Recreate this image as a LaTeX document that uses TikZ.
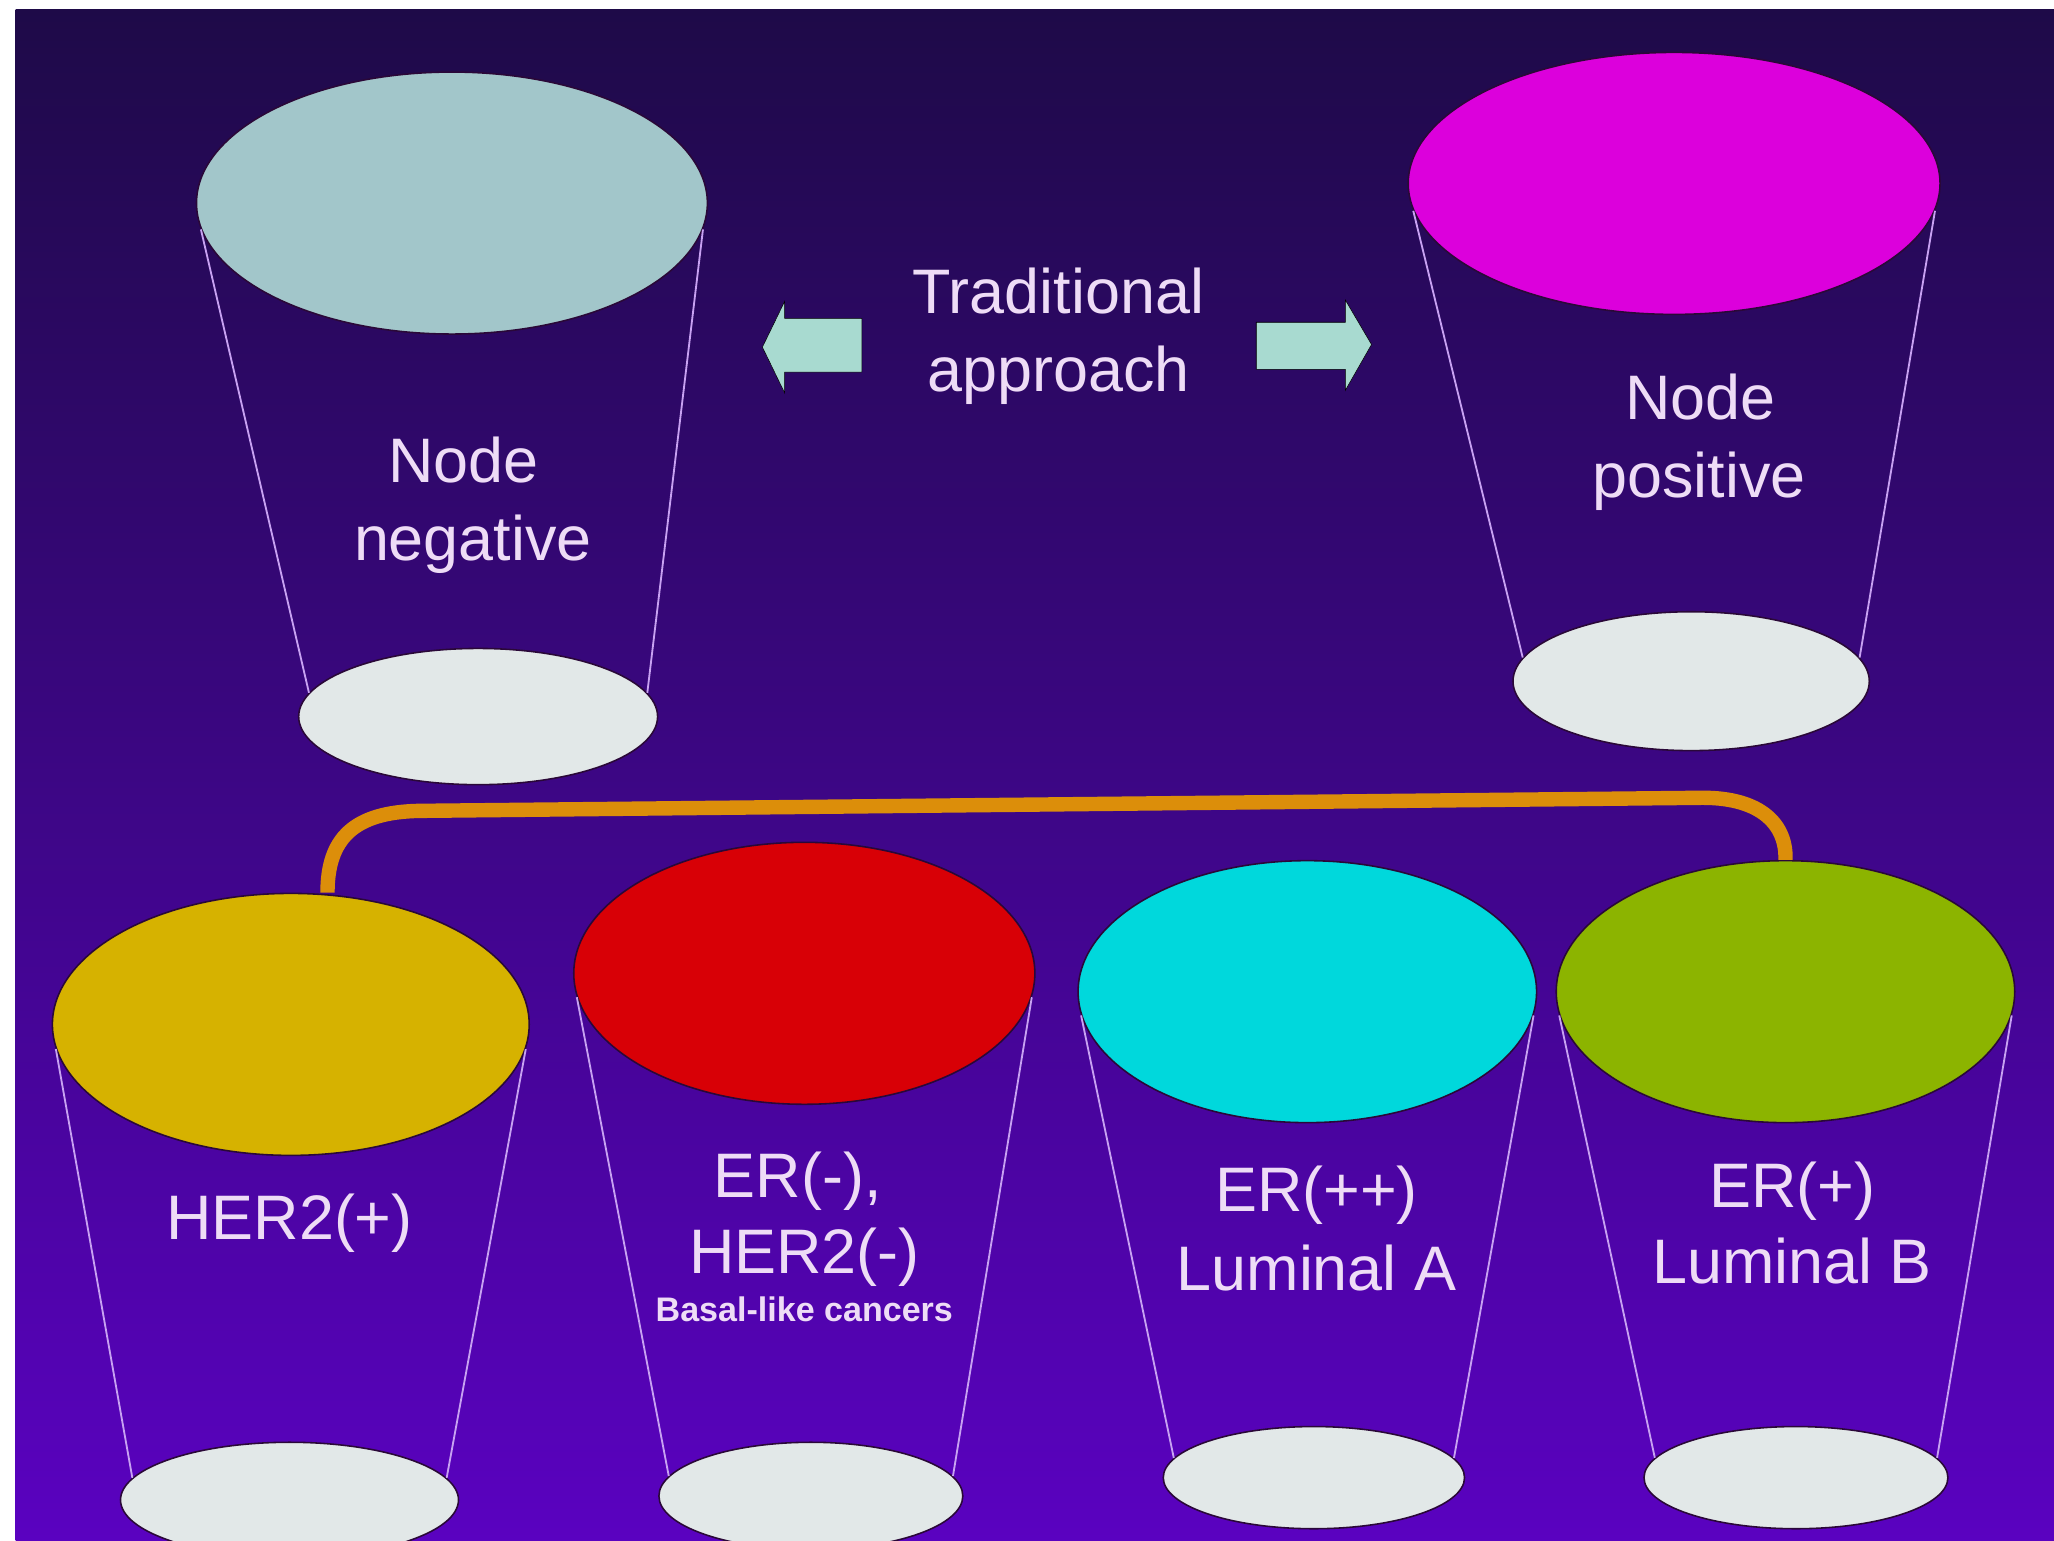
\documentclass[tikz,border=0pt]{standalone}
\usepackage{fontspec}
\setmainfont{Liberation Sans}
\usetikzlibrary{shapes.geometric}
\definecolor{bgtop}{HTML}{1E0A48}
\definecolor{bgmid}{HTML}{360A8E}
\definecolor{bgbot}{HTML}{5A02C0}
\definecolor{txtcol}{HTML}{EEDCF6}
\definecolor{sidecol}{HTML}{C8A2F2}
\definecolor{rimcol}{HTML}{2A0838}
\definecolor{basecol}{HTML}{E2E8E8}
\definecolor{nncol}{HTML}{A2C6CA}
\definecolor{npcol}{HTML}{DC00DC}
\definecolor{h2col}{HTML}{D6B200}
\definecolor{ercol}{HTML}{D80006}
\definecolor{lacol}{HTML}{00D8DC}
\definecolor{lbcol}{HTML}{8CB400}
\definecolor{arrcol}{HTML}{A8DAD0}
\definecolor{brcol}{HTML}{DC8E0A}
\tikzset{
  cuptop/.style={ellipse, inner sep=0pt, draw=rimcol, line width=1.2pt, minimum height=200pt},
  cupbase/.style={ellipse, inner sep=0pt, draw=rimcol, line width=1.2pt, fill=basecol},
  side/.style={draw=sidecol, line width=1.4pt},
  lbl/.style={text=txtcol, font=\fontsize{48}{60}\selectfont, inner sep=0pt, anchor=base},
  smalllbl/.style={text=txtcol, font=\fontsize{26}{30}\selectfont\bfseries, inner sep=0pt, anchor=base},
  blockarrow/.style={fill=arrcol},
  bracket/.style={draw=brcol, line width=11pt}
}
\begin{document}
\begin{tikzpicture}[x=1pt,y=-1pt]
\useasboundingbox (0,0) rectangle (1568,1176);
\fill[white] (0,0) rectangle (1568,1176);
\shade[top color=bgtop, middle color=bgmid, bottom color=bgbot] (12,7) rectangle (1568,1176);

% bracket (behind cups)
\node[cupbase, minimum width=258pt, minimum height=88pt] (h2B) at (221,1145) {};
\node[cuptop, fill=h2col, minimum width=364pt] (h2T) at (222,782) {};
\node[cuptop, fill=lbcol, minimum width=350pt] (lbT) at (1363,757) {};

% cups
\node[cupbase, minimum width=274pt, minimum height=104pt] (nnB) at (365,547) {};
\node[cuptop, fill=nncol, minimum width=390pt] (nnT) at (345,155) {};
\node[cupbase, minimum width=272pt, minimum height=106pt] (npB) at (1291,520) {};
\node[cuptop, fill=npcol, minimum width=406pt] (npT) at (1278,140) {};
\node[cupbase, minimum width=232pt, minimum height=82pt] (erB) at (619,1142) {};
\node[cuptop, fill=ercol, minimum width=352pt] (erT) at (614,743) {};
\node[cupbase, minimum width=230pt, minimum height=78pt] (laB) at (1003,1128) {};
\node[cuptop, fill=lacol, minimum width=350pt] (laT) at (998,757) {};
\node[cupbase, minimum width=232pt, minimum height=78pt] (lbB) at (1371,1128) {};

\foreach \t/\b in {nnT/nnB, npT/npB, h2T/h2B, erT/erB, laT/laB, lbT/lbB}{
  \draw[side] (\t.186) -- (\b.172);
  \draw[side] (\t.354) -- (\b.8);
}

\coordinate (brL) at ([xshift=28pt]h2T.north);
\coordinate (brR) at (lbT.north);
\draw[bracket] (brL) .. controls (250,640) and (270,620) .. (320,619) -- (1300,609) .. controls (1345,609) and (1364,630) .. (brR);

% block arrows
\draw[blockarrow] (582,265) -- (599,230) -- (599,243) -- (658,243) -- (658,284) -- (599,284) -- (599,300) -- cycle;
\draw[blockarrow] (1047,263) -- (1027,229) -- (1027,246) -- (959,246) -- (959,282) -- (1027,282) -- (1027,298) -- cycle;

% labels
\node[lbl] (ta1) at (808,239) {Traditional};
\node[lbl] (ta2) at (808,299) {approach};
\node[lbl] (nn1) at (354,368) {Node};
\node[lbl] (nn2) at (361,428) {negative};
\node[lbl] (np1) at (1298,320) {Node};
\node[lbl] (np2) at (1297,380) {positive};
\node[lbl] (h21) at (221,946) {HER2(+)};
\node[lbl] (er1) at (609,914) {ER(-),};
\node[lbl] (er2) at (614,972) {HER2(-)};
\node[smalllbl] (er3) at (614,1009) {Basal-like cancers};
\node[lbl] (la1) at (1005,925) {ER(++)};
\node[lbl] (la2) at (1005,985) {Luminal A};
\node[lbl] (lb1) at (1368,922) {ER(+)};
\node[lbl] (lb2) at (1368,980) {Luminal B};
\end{tikzpicture}
\end{document}
